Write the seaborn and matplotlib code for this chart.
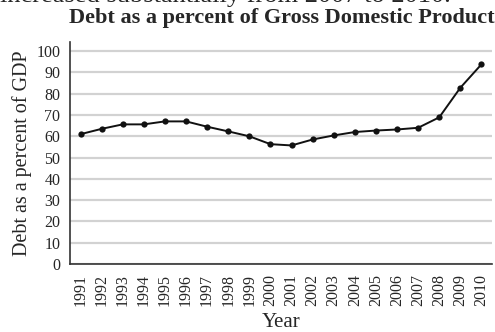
import matplotlib

matplotlib.use("Agg")
import matplotlib.pyplot as plt
import numpy as np
import pandas as pd
import seaborn as sns

years = list(range(1991, 2011))
debt_pct = [61.0, 63.5, 65.6, 65.6, 67.0, 67.0, 64.5, 62.3, 60.0, 56.3,
            55.7, 58.5, 60.4, 62.0, 62.7, 63.2, 64.0, 68.9, 82.8, 93.8]
y_ticks = list(range(0, 101, 10))

df = pd.DataFrame({"Year": years, "Debt": debt_pct})

sns.set_theme(style="white")
plt.rcParams["font.family"] = ["Liberation Serif", "DejaVu Serif"]

fig = plt.figure(figsize=(4.95, 3.32), dpi=100)
ax = fig.add_axes([0.1414, 0.2048, 0.8525, 0.6687])

sns.lineplot(data=df, x="Year", y="Debt", ax=ax, color="#111111",
             linewidth=1.4, marker="o", markersize=4.5, markeredgewidth=0)

ax.set_xlim(years[0] - 0.5, years[-1] + 0.5)
ax.set_ylim(0, 104.3)
ax.set_yticks(y_ticks)
ax.set_yticklabels([str(v) for v in y_ticks], fontsize=11.5)
ax.yaxis.grid(True, color="#d2d2d2", linewidth=1.6)
ax.set_axisbelow(True)

ax.set_xticks(years)
ax.set_xticklabels([str(y) for y in years], rotation=90, fontsize=11.5)
ax.set_xticks(np.arange(years[0] - 0.5, years[-1] + 1.0, 1.0), minor=True)
ax.tick_params(axis="x", which="major", length=0, pad=7)
ax.tick_params(axis="x", which="minor", length=5, width=1, color="#333333",
               direction="out")
ax.tick_params(axis="y", length=5, width=1, color="#333333", direction="out", pad=2)

for side in ["top", "right"]:
    ax.spines[side].set_visible(False)
for side in ["left", "bottom"]:
    ax.spines[side].set_color("#333333")
    ax.spines[side].set_linewidth(1.2)

ax.set_xlabel("Year", fontsize=15, labelpad=5)
ax.set_ylabel("Debt as a percent of GDP", fontsize=14.5, labelpad=3)

fig.text(0.5685, 0.946, "Debt as a percent of Gross Domestic Product",
         ha="center", va="center", fontsize=16, fontweight="bold")
fig.text(0.0, 0.9935, "increased substantially from 2007 to 2010.",
         ha="left", va="baseline", fontsize=19)

fig.savefig("out.png", dpi=100)
